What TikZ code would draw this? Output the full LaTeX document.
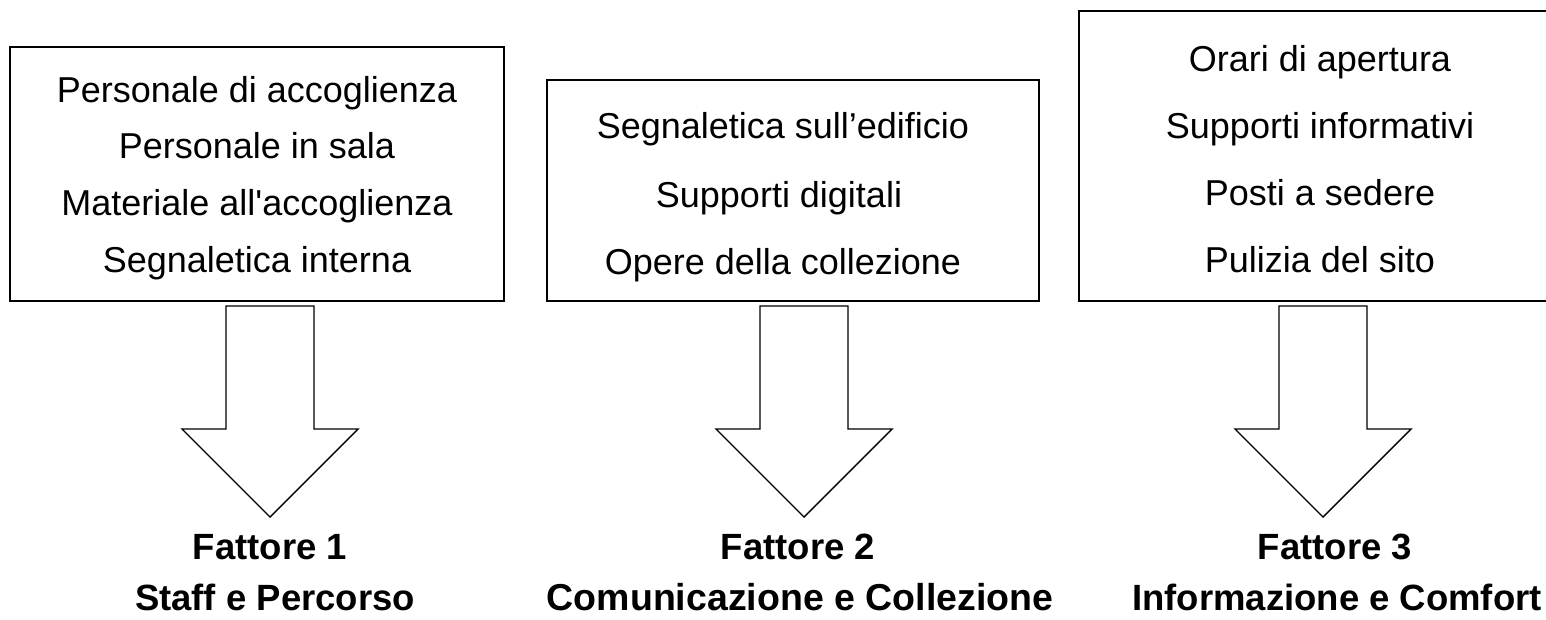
\documentclass[tikz,border=0pt]{standalone}
\usepackage{fontspec}
\setmainfont{Liberation Sans}[Ligatures=TeXOff]
\begin{document}
\begin{tikzpicture}[x=1pt,y=-1pt,
  itembox/.style={draw=black,line width=1.6pt,fill=white},
  blockarrow/.style={draw=black,line width=1.4pt,fill=white,line join=miter},
  item/.style={anchor=base,inner sep=0pt,font=\fontsize{36}{36}\selectfont},
  factor/.style={anchor=base,inner sep=0pt,font=\fontsize{36.5}{36.5}\selectfont\bfseries}]
\useasboundingbox (0,0) rectangle (1546,619);
\clip (0,0) rectangle (1546,619);

% item boxes
\draw[itembox] (10,47) rectangle (504,301);
\draw[itembox] (547,80) rectangle (1039,301);
\draw[itembox] (1079,11) rectangle (1565,301);

% box 1
\node[item] (a1) at (257,102) {Personale di accoglienza};
\node[item] (a2) at (257,158.7) {Personale in sala};
\node[item] (a3) at (257,215.3) {Materiale all'accoglienza};
\node[item] (a4) at (257,272) {Segnaletica interna};

% box 2
\node[item] (b1) at (783,138) {Segnaletica sull’edificio};
\node[item] (b2) at (779,207) {Supporti digitali};
\node[item] (b3) at (783,274) {Opere della collezione};

% box 3
\node[item] (c1) at (1320,71) {Orari di apertura};
\node[item] (c2) at (1320,138) {Supporti informativi};
\node[item] (c3) at (1320,205) {Posti a sedere};
\node[item] (c4) at (1320,272) {Pulizia del sito};

% block arrows pointing down to each factor
\foreach \cx/\nm in {270/arrA,804/arrB,1323/arrC}{
  \draw[blockarrow] (\cx-44,306) -- (\cx+44,306) -- (\cx+44,429) -- (\cx+88,429)
     -- (\cx,517) coordinate (\nm) -- (\cx-88,429) -- (\cx-44,429) -- cycle;
}

% factor labels
\node[factor] (f1) at (270,559) {Fattore 1};
\node[factor] (g1) at (275,610) {Staff e Percorso};
\node[factor] (f2) at (798,559) {Fattore 2};
\node[factor] (g2) at (800,610) {\fontsize{37.5}{37.5}\selectfont Comunicazione e Collezione};
\node[factor] (f3) at (1335,559) {Fattore 3};
\node[factor] (g3) at (1337,610) {Informazione e Comfort};
\end{tikzpicture}
\end{document}
